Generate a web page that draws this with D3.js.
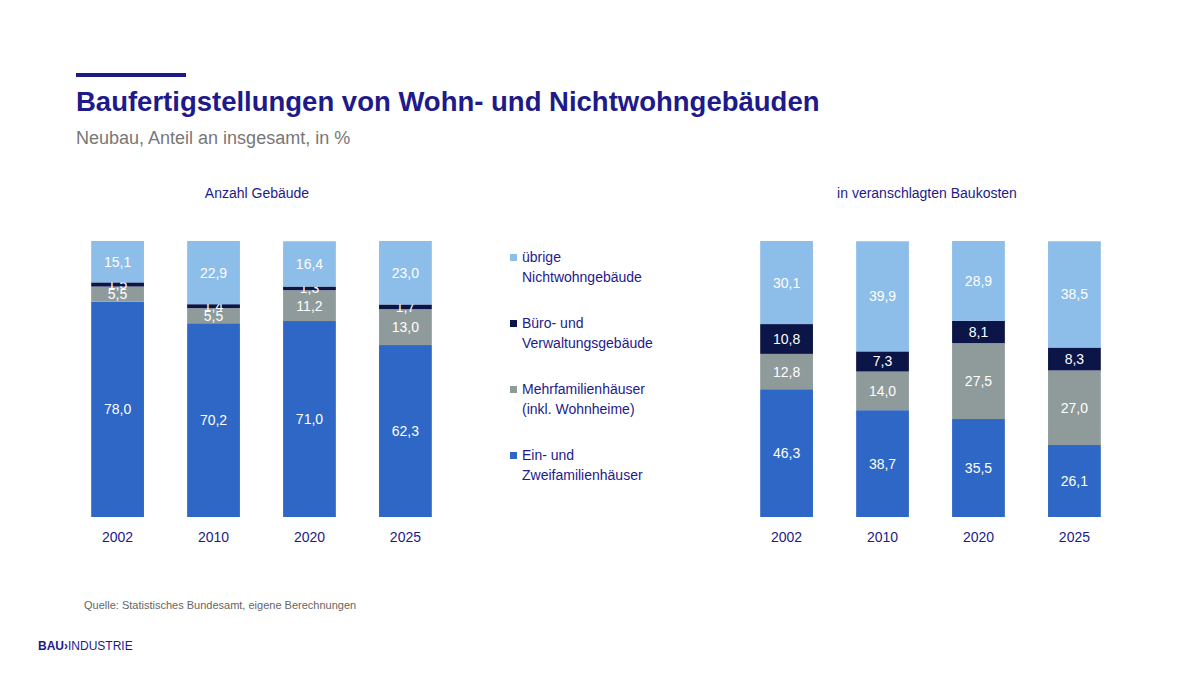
<!DOCTYPE html>
<html><head><meta charset="utf-8">
<script src="https://cdn.jsdelivr.net/npm/d3@7"></script>
<style>body{margin:0;background:#fff}text{font-family:Arial,"Liberation Sans",sans-serif}</style>
</head><body><div id="chart"></div>
<script>
const years = ["2002", "2010", "2020", "2025"]
const series = ["Ein- und Zweifamilienhäuser", "Mehrfamilienhäuser (inkl. Wohnheime)", "Büro- und Verwaltungsgebäude", "übrige Nichtwohngebäude"]
const anzahl = [
  [78.0, 5.5, 1.5, 15.1],
  [70.2, 5.5, 1.4, 22.9],
  [71.0, 11.2, 1.3, 16.4],
  [62.3, 13.0, 1.7, 23.0]
]
const baukosten = [
  [46.3, 12.8, 10.8, 30.1],
  [38.7, 14.0, 7.3, 39.9],
  [35.5, 27.5, 8.1, 28.9],
  [26.1, 27.0, 8.3, 38.5]
]
const colors = ["#2e67c6", "#8f9a9b", "#0b1547", "#8dbde9"]
const legendLines = [["Ein- und", "Zweifamilienhäuser"], ["Mehrfamilienhäuser", "(inkl. Wohnheime)"], ["Büro- und", "Verwaltungsgebäude"], ["übrige", "Nichtwohngebäude"]]

const width = 1200, height = 675
const svg = d3.select("#chart").append("svg").attr("width", width).attr("height", height)
const navy = "#1e1a8a"

svg.append("rect").attr("x", 76).attr("y", 73).attr("width", 110).attr("height", 4).attr("fill", navy)
svg.append("text").attr("x", 76).attr("y", 111).text("Baufertigstellungen von Wohn- und Nichtwohngebäuden")
  .attr("fill", navy).style("font-size", "27.5px").style("font-weight", "bold")
svg.append("text").attr("x", 76).attr("y", 144).text("Neubau, Anteil an insgesamt, in %")
  .attr("fill", "#777").style("font-size", "18px")

const y = d3.scaleLinear().domain([0, 100]).range([517, 241])

function panel(data, x0, x1, title, tx) {
  const x = d3.scaleBand().domain(years).range([x0, x1]).paddingInner(0.45).paddingOuter(0.2)
  const g = svg.append("g")
  g.append("text").attr("x", tx).attr("y", 198).attr("text-anchor", "middle").text(title)
    .attr("fill", navy).style("font-size", "14px")
  const rows = years.map((yr, i) => { const o = {year: yr}; series.forEach((s, j) => o[s] = data[i][j]); return o })
  const stack = d3.stack().keys(series)(rows)
  stack.forEach((layer, j) => {
    const lg = g.append("g")
    lg.selectAll("rect").data(layer).join("rect")
      .attr("x", d => x(d.data.year)).attr("width", x.bandwidth())
      .attr("y", d => y(Math.min(d[1], 100))).attr("height", d => y(d[0]) - y(Math.min(d[1], 100)))
      .attr("fill", colors[j])
    lg.selectAll("text").data(layer).join("text")
      .attr("x", d => x(d.data.year) + x.bandwidth() / 2)
      .attr("y", d => y((d[0] + Math.min(d[1], 100)) / 2) + 5)
      .attr("text-anchor", "middle").attr("fill", "#fff").style("font-size", "14px")
      .text(d => d3.format(".1f")(d[1] - d[0]).replace(".", ","))
  })
  g.append("g").attr("transform", "translate(0,517)").call(d3.axisBottom(x).tickSize(0).tickPadding(15))
    .call(a => a.select(".domain").remove())
    .selectAll("text").attr("fill", navy).style("font-size", "14px").style("font-family", "Arial")
}
panel(anzahl, 72, 451, "Anzahl Gebäude", 257)
panel(baukosten, 741, 1120, "in veranschlagten Baukosten", 927)

const leg = svg.append("g")
;[3, 2, 1, 0].forEach((j, k) => {
  const yy = 262 + k * 66
  leg.append("rect").attr("x", 510).attr("y", yy - 8).attr("width", 7).attr("height", 7).attr("fill", colors[j])
  legendLines[j].forEach((t, l) => leg.append("text").attr("x", 522).attr("y", yy + l * 20).text(t)
    .attr("fill", navy).style("font-size", "14px"))
})

svg.append("text").attr("x", 84).attr("y", 609).text("Quelle: Statistisches Bundesamt, eigene Berechnungen")
  .attr("fill", "#666").style("font-size", "11px")
svg.append("text").attr("x", 38).attr("y", 650).attr("fill", navy).style("font-size", "12px")
  .call(t => { t.append("tspan").text("BAU").style("font-weight", "bold"); t.append("tspan").text("\u203A").style("font-weight", "bold"); t.append("tspan").text("INDUSTRIE") })
</script></body></html>
